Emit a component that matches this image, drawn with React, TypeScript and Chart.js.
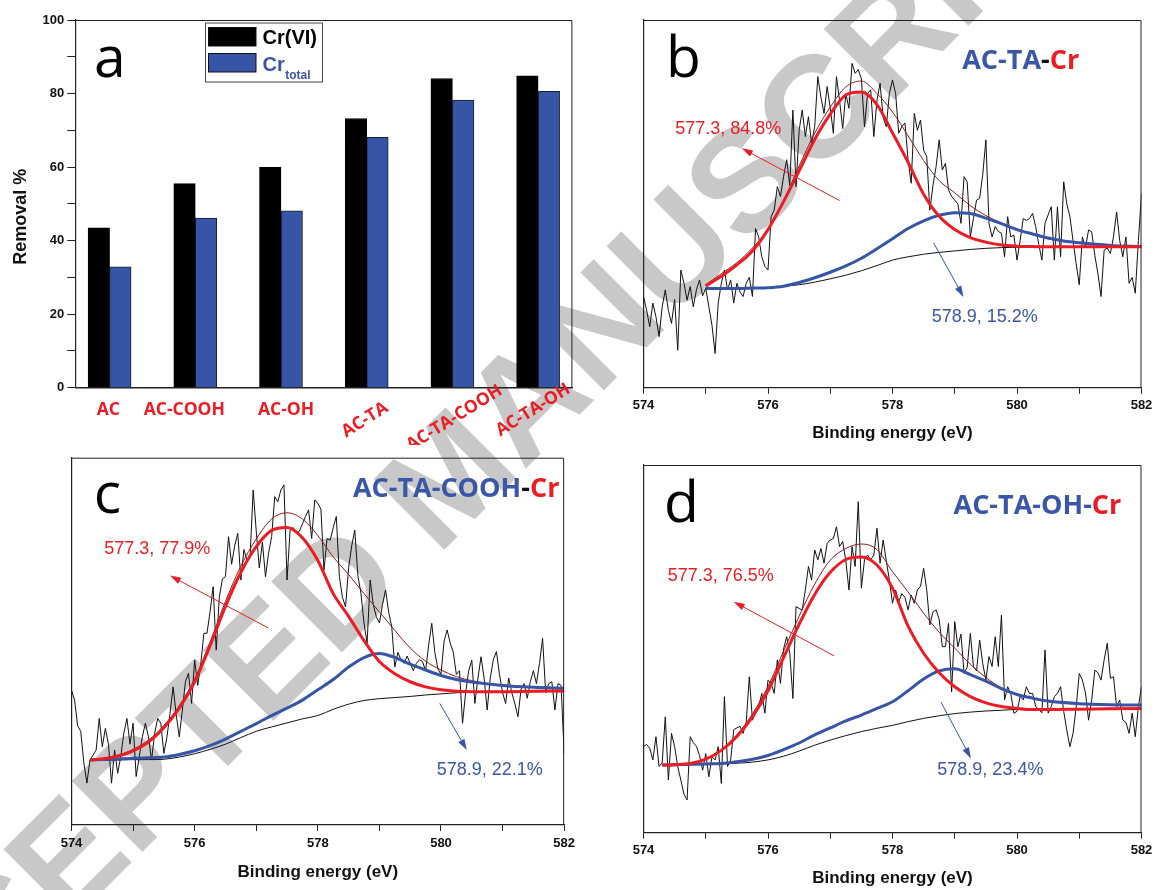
import React, { useEffect, useRef } from "react";
import { Chart, registerables } from "chart.js";
Chart.register(...registerables);

// ---------- Panel a data ----------
const SAMPLES = ["AC", "AC-COOH", "AC-OH", "AC-TA", "AC-TA-COOH", "AC-TA-OH"];
const CR6_REMOVAL = [43.5, 55.5, 59.9, 73.2, 84.1, 84.8];
const CRTOTAL_REMOVAL = [32.9, 46.1, 48.1, 68.1, 78.2, 80.6];
const REMOVAL_TICKS = [0, 20, 40, 60, 80, 100];

// ---------- XPS data (Cr 2p3/2), intensity in arbitrary units 0-100 ----------
const ENERGY_TICKS = [574, 576, 578, 580, 582];
const RAW_START = 574;
const RAW_STEP = 0.05;

const RAW_B = [
  24.8, 21.1, 16.6, 23.0, 19.3, 13.9, 22.0, 26.6, 21.0, 17.5, 24.0, 10.2, 32.0, 28.4, 23.8, 27.5, 22.0, 26.6, 29.3, 25.0, 27.0,
  22.0, 17.0, 9.3, 23.0, 28.4, 32.0, 26.6, 29.3, 23.0, 28.4,
  26.0, 24.8, 28.4, 30.0, 24.8, 43.3, 41.0, 35.6, 33.0, 32.0,
  46.5, 48.3, 54.7, 52.0, 57.4, 62.0, 55.0, 75.5, 54.7, 70.0,
  75.5, 68.3, 73.7, 66.5, 71.0, 84.6, 79.0, 74.6, 81.9, 76.0,
  69.2, 84.6, 78.0, 70.5, 80.0, 76.0, 88.2, 85.5, 86.5, 84.0,
  71.0, 80.0, 81.0, 68.3, 78.0, 82.8, 73.5, 71.0, 80.0, 83.7,
  80.0, 69.2, 71.0, 72.0, 62.0, 55.6, 74.6, 70.0, 72.8, 64.6,
  62.8, 48.3, 55.0, 60.1, 67.4, 59.2, 61.0, 53.8, 52.0, 51.0,
  50.0, 44.7, 57.4, 56.0, 41.0, 46.0, 51.0, 51.5, 58.0, 67.4,
  44.7, 41.0, 43.8, 42.5, 42.0, 35.6, 46.5, 41.0, 41.5, 34.7,
  40.0, 46.0, 45.5, 46.0, 47.4, 43.8, 39.0, 34.7, 44.7, 47.0,
  49.2, 34.7, 49.2, 35.6, 56.0, 50.0, 46.5, 40.0, 33.8, 28.0,
  41.0, 38.0, 42.9, 42.4, 36.0, 31.0, 24.8, 37.4, 38.0, 36.5,
  41.0, 47.8, 40.0, 35.6, 41.0, 28.4, 30.0, 25.7, 40.0, 52.8,
];
const RAW_C = [
  36.7, 34.0, 27.0, 25.5, 17.0, 11.4, 17.7, 19.0, 20.4, 29.0, 21.3,
  26.3, 22.0, 11.4, 20.4, 14.1, 18.6, 25.0, 29.0, 22.0, 27.7,
  13.2, 18.6, 24.0, 27.7, 24.0, 17.7, 25.0, 29.0, 27.7, 19.5,
  24.0, 30.4, 37.6, 30.0, 24.0, 31.3, 39.0, 41.3, 33.1, 44.9,
  38.0, 44.0, 52.2, 52.2, 58.0, 64.9, 47.6, 62.0, 67.0, 67.6,
  78.5, 71.0, 76.0, 79.4, 66.7, 75.0, 72.0, 73.0, 91.2, 80.0,
  70.0, 77.0, 67.6, 74.0, 78.5, 89.4, 88.0, 91.2, 92.6, 66.7,
  80.3, 81.0, 79.4, 80.0, 82.0, 84.0, 85.8, 78.0, 88.5, 87.6,
  86.0, 69.4, 78.0, 77.5, 81.0, 84.0, 67.6, 62.0, 59.4, 70.0,
  76.0, 80.3, 68.0, 63.1, 55.0, 49.5, 66.7, 60.0, 56.7, 55.0,
  60.0, 64.0, 58.0, 54.0, 43.0, 47.0, 45.0, 44.0, 46.0, 44.0,
  42.0, 44.0, 45.0, 44.5, 42.0, 49.0, 54.9, 47.0, 42.5, 41.0,
  50.0, 53.1, 49.5, 47.0, 41.0, 42.0, 27.7, 36.0, 42.0, 44.9,
  33.1, 40.0, 45.8, 40.0, 31.3, 40.0, 45.0, 47.2, 41.0, 36.0,
  33.1, 40.0, 36.0, 33.0, 29.5, 37.0, 38.5, 34.5, 39.0, 42.0,
  38.5, 44.0, 50.8, 36.0, 38.5, 39.0, 31.3, 38.5, 38.0, 19.5,
];
const RAW_D = [
  23.4, 24.0, 23.0, 19.8, 26.1, 18.0, 19.0, 31.5, 14.3, 27.0, 23.4,
  18.0, 14.3, 10.5, 8.9, 26.1, 24.5, 23.5, 21.0, 17.0, 21.5,
  15.2, 20.6, 19.8, 23.4, 13.4, 37.0, 18.0, 19.8, 28.0, 28.5,
  28.9, 27.0, 30.0, 42.4, 30.6, 32.5, 34.3, 37.9, 32.5, 41.5,
  40.6, 37.9, 47.0, 40.6, 50.0, 53.3, 48.8, 36.5, 61.5, 61.0,
  60.6, 66.0, 72.4, 68.7, 76.9, 74.2, 77.3, 73.3, 78.7, 79.6,
  80.0, 83.2, 77.8, 79.2, 74.0, 66.0, 77.8, 72.4, 90.0, 66.5,
  74.2, 75.5, 74.2, 75.5, 82.8, 73.3, 79.6, 74.0, 68.7, 62.4,
  66.0, 62.8, 65.0, 64.0, 60.6, 64.6, 62.4, 66.0, 67.0, 71.9,
  66.0, 56.5, 60.0, 60.6, 58.0, 50.6, 50.6, 56.9, 38.3, 57.4,
  50.6, 54.0, 43.3, 45.0, 54.2, 45.2, 44.0, 52.4, 46.0, 41.5,
  47.9, 45.2, 53.3, 45.2, 59.2, 36.1, 39.7, 37.9, 32.5, 33.0,
  37.0, 36.1, 39.7, 37.9, 37.9, 34.3, 33.5, 32.6, 49.7, 32.5,
  34.3, 37.0, 37.9, 39.7, 33.0, 27.9, 23.4, 27.0, 34.0, 43.3,
  41.5, 38.0, 30.6, 36.1, 44.2, 43.5, 41.5, 47.0, 51.5, 42.0,
  42.4, 34.3, 36.1, 30.6, 30.0, 27.0, 32.5, 26.1, 34.3, 39.7,
];

// fitted components
const FIT_X_B = [575, 575.25, 575.5, 575.75, 576, 576.25, 576.5, 576.75, 577, 577.25, 577.5, 577.75, 578, 578.25, 578.5, 578.75, 579, 579.25, 579.5, 579.75, 580, 580.25, 580.5, 580.75, 581, 581.5, 582];
const PEAK1_B = [27.7, 30.3, 33.4, 37.2, 43.0, 50.6, 59.0, 67.5, 74.4, 79.6, 80.4, 77.0, 69.3, 61.3, 52.6, 46.6, 43.0, 40.8, 39.6, 38.8, 38.5, 38.4, 38.3, 38.3, 38.3, 38.3, 38.3];
const PEAK2_B = [27.0, 27.0, 27.0, 27.1, 27.2, 27.6, 28.6, 29.9, 31.4, 33.1, 35.2, 37.8, 40.5, 43.3, 45.4, 46.9, 47.6, 47.4, 46.1, 44.6, 43.0, 41.8, 40.7, 39.9, 39.4, 38.7, 38.4];
const ENVELOPE_B = [28.0, 31.0, 34.0, 38.0, 43.0, 50.8, 60.3, 69.2, 76.3, 81.8, 83.4, 80.0, 75.0, 68.5, 61.8, 56.3, 53.0, 49.5, 46.8, 44.8, 43.0, 41.7, 40.5, 39.8, 39.3, 38.7, 38.4];
const BACKGROUND_B = [26.7, 26.7, 26.8, 27.0, 27.2, 27.6, 28.0, 28.7, 29.6, 30.6, 31.8, 33.2, 34.7, 35.6, 36.3, 36.8, 37.2, 37.6, 37.9, 38.1, 38.2, 38.3, 38.3, 38.3, 38.3, 38.3, 38.3];

const FIT_X_CD = [574.3, 574.5, 574.75, 575, 575.25, 575.5, 575.75, 576, 576.25, 576.5, 576.75, 577, 577.25, 577.5, 577.75, 578, 578.25, 578.5, 578.75, 579, 579.25, 579.5, 579.75, 580, 580.25, 580.5, 581, 581.5, 582];
const PEAK1_C = [17.7, 18.0, 18.7, 20.2, 22.6, 26.5, 31.8, 39.0, 48.8, 59.5, 68.8, 75.8, 80.2, 81.0, 78.2, 72.0, 63.0, 56.8, 50.2, 44.5, 41.2, 39.0, 37.6, 36.8, 36.4, 36.3, 36.3, 36.4, 36.5];
const PEAK2_C = [17.7, 17.8, 18.0, 18.2, 18.3, 18.5, 19.2, 20.2, 21.6, 23.4, 25.5, 27.6, 29.8, 31.8, 34.0, 36.8, 39.6, 43.0, 45.6, 46.7, 45.6, 43.8, 42.2, 40.7, 39.6, 38.9, 38.0, 37.5, 37.2];
const ENVELOPE_C = [17.9, 18.2, 19.0, 20.6, 23.1, 27.1, 32.5, 39.8, 49.8, 60.9, 70.5, 77.9, 83.3, 85.0, 83.3, 78.8, 73.0, 68.2, 63.0, 58.0, 53.0, 48.2, 44.6, 42.2, 40.4, 39.3, 38.1, 37.6, 37.4];
const BACKGROUND_C = [17.5, 17.6, 17.7, 17.8, 17.8, 17.9, 18.5, 19.4, 20.6, 22.0, 23.8, 25.5, 26.7, 27.8, 28.9, 29.8, 31.5, 32.9, 33.9, 34.4, 34.7, 35.0, 35.4, 35.7, 36.0, 36.2, 36.3, 36.3, 36.3];

const PEAK1_D = [18.4, 18.5, 18.8, 20.0, 22.4, 26.2, 31.5, 38.6, 47.6, 56.7, 64.8, 70.8, 74.3, 75.0, 72.8, 66.5, 56.2, 48.8, 43.5, 39.7, 37.0, 35.3, 34.3, 33.8, 33.5, 33.5, 33.6, 33.7, 33.8];
const PEAK2_D = [18.4, 18.5, 18.6, 18.7, 18.8, 19.3, 20.0, 21.0, 22.6, 24.4, 26.6, 28.5, 30.4, 32.0, 33.8, 35.6, 38.6, 41.8, 44.0, 44.6, 43.0, 41.2, 39.2, 37.6, 36.6, 35.8, 35.1, 34.8, 34.7];
const ENVELOPE_D = [18.4, 18.6, 18.9, 20.1, 22.5, 26.6, 32.3, 39.8, 49.4, 58.9, 67.6, 74.1, 77.3, 78.5, 77.0, 71.0, 65.5, 59.7, 54.5, 50.2, 45.8, 42.2, 39.4, 37.5, 36.4, 35.6, 35.0, 34.7, 34.7];
const BACKGROUND_D = [18.4, 18.4, 18.5, 18.6, 18.7, 18.9, 19.2, 19.8, 20.8, 22.2, 23.8, 25.2, 26.4, 27.5, 28.4, 29.2, 30.2, 31.1, 31.8, 32.4, 32.8, 33.1, 33.3, 33.5, 33.5, 33.6, 33.7, 33.8, 33.8];

// peak labels
const PEAK_LABELS_B = ["577.3, 84.8%", "578.9, 15.2%"];
const PEAK_LABELS_C = ["577.3, 77.9%", "578.9, 22.1%"];
const PEAK_LABELS_D = ["577.3, 76.5%", "578.9, 23.4%"];

// ---------- styles ----------
const RED = "#ed1c24";
const BLUE = "#3655a6";
const BLUE_TXT = "#3a56a6";
const ENV_COLOR = "#8b1a1a";
const SANS = "'Liberation Sans', Arial, sans-serif";
const CAL = "'Open Sans', 'Noto Sans', sans-serif";

Chart.defaults.font.family = SANS;

type Seg = [string, string];

const SPECTRA = [
  {
    key: "b", left: 580, top: 0, width: 577, height: 445,
    yW: 63.5, padTop: 20, padRight: 15.5, xH: 57.3, tickPad: 4, titlePad: 1.8,
    raw: RAW_B, fitX: FIT_X_B, p1: PEAK1_B, p2: PEAK2_B, env: ENVELOPE_B, bg: BACKGROUND_B,
    labels: PEAK_LABELS_B,
    title: [["AC-TA", BLUE_TXT], ["-", "#111"], ["Cr", RED]] as Seg[],
    letterAt: [574.36, 84.6], titleAt: [579.12, 88.8], redTextAt: [574.51, 70.4], blueTextAt: [578.63, 19.2],
    redArrow: [577.15, 50.9, 575.58, 65.1], blueArrow: [578.66, 39.4, 579.14, 24.7],
  },
  {
    key: "c", left: 0, top: 445, width: 580, height: 445,
    yW: 71.5, padTop: 12.7, padRight: 11.3, xH: 65, tickPad: 5, titlePad: 7.8,
    raw: RAW_C, fitX: FIT_X_CD, p1: PEAK1_C, p2: PEAK2_C, env: ENVELOPE_C, bg: BACKGROUND_C,
    labels: PEAK_LABELS_C,
    title: [["AC-TA-COOH", BLUE_TXT], ["-", "#111"], ["Cr", RED]] as Seg[],
    letterAt: [574.36, 84.9], titleAt: [578.57, 91.5], redTextAt: [574.53, 75.1], blueTextAt: [579.93, 15.0],
    redArrow: [577.2, 53.6, 575.6, 67.9], blueArrow: [579.98, 33.1, 580.42, 20.4],
  },
  {
    key: "d", left: 580, top: 445, width: 577, height: 445,
    yW: 63.5, padTop: 20, padRight: 15.5, xH: 57.3, tickPad: 4, titlePad: 1.8,
    raw: RAW_D, fitX: FIT_X_CD, p1: PEAK1_D, p2: PEAK2_D, env: ENVELOPE_D, bg: BACKGROUND_D,
    labels: PEAK_LABELS_D,
    title: [["AC-TA-OH-", BLUE_TXT], ["Cr", RED]] as Seg[],
    letterAt: [574.33, 84.6], titleAt: [578.98, 88.9], redTextAt: [574.39, 69.8], blueTextAt: [578.72, 17.1],
    redArrow: [577.06, 48.1, 575.45, 62.8], blueArrow: [578.78, 35.5, 579.26, 20.2],
  },
];

function drawArrow(ctx: CanvasRenderingContext2D, x1: number, y1: number, x2: number, y2: number, color: string) {
  const ang = Math.atan2(y2 - y1, x2 - x1);
  const len = 11, w = 3.5;
  ctx.strokeStyle = color;
  ctx.lineWidth = 1;
  ctx.beginPath();
  ctx.moveTo(x1, y1);
  ctx.lineTo(x2 - Math.cos(ang) * len * 0.6, y2 - Math.sin(ang) * len * 0.6);
  ctx.stroke();
  ctx.fillStyle = color;
  ctx.beginPath();
  ctx.moveTo(x2, y2);
  ctx.lineTo(x2 - len * Math.cos(ang) + w * Math.sin(ang), y2 - len * Math.sin(ang) - w * Math.cos(ang));
  ctx.lineTo(x2 - len * Math.cos(ang) - w * Math.sin(ang), y2 - len * Math.sin(ang) + w * Math.cos(ang));
  ctx.closePath();
  ctx.fill();
}

function drawBox(ctx: CanvasRenderingContext2D, a: any) {
  ctx.strokeStyle = "#222";
  ctx.lineWidth = 1;
  ctx.beginPath();
  ctx.moveTo(a.left, a.top + 0.5);
  ctx.lineTo(a.right - 0.5, a.top + 0.5);
  ctx.lineTo(a.right - 0.5, a.bottom);
  ctx.stroke();
}

function spectrumConfig(p: any): any {
  const xy = (xs: number[], ys: number[]) => xs.map((x, i) => ({ x, y: ys[i] }));
  const rawXY = p.raw.map((y: number, i: number) => ({ x: +(RAW_START + i * RAW_STEP).toFixed(2), y }));
  const smooth = { pointRadius: 0, cubicInterpolationMode: "monotone", fill: false };
  const decor = {
    id: "decor" + p.key,
    afterDraw(chart: any) {
      const { ctx, chartArea: a, scales } = chart;
      const X = (v: number) => scales.x.getPixelForValue(v);
      const Y = (v: number) => scales.y.getPixelForValue(v);
      ctx.save();
      drawBox(ctx, a);
      ctx.fillStyle = "#000";
      ctx.font = `57px ${CAL}`;
      ctx.textAlign = "left";
      ctx.textBaseline = "alphabetic";
      ctx.fillText(p.key, X(p.letterAt[0]), Y(p.letterAt[1]));
      ctx.font = `bold 27px ${CAL}`;
      ctx.textBaseline = "middle";
      let tx = X(p.titleAt[0]);
      for (const [t, c] of p.title) {
        ctx.fillStyle = c;
        ctx.fillText(t, tx, Y(p.titleAt[1]));
        tx += ctx.measureText(t).width;
      }
      ctx.font = `18px ${SANS}`;
      ctx.fillStyle = RED;
      ctx.fillText(p.labels[0], X(p.redTextAt[0]), Y(p.redTextAt[1]));
      ctx.fillStyle = BLUE_TXT;
      ctx.fillText(p.labels[1], X(p.blueTextAt[0]), Y(p.blueTextAt[1]));
      const ra = p.redArrow, ba = p.blueArrow;
      drawArrow(ctx, X(ra[0]), Y(ra[1]), X(ra[2]), Y(ra[3]), RED);
      drawArrow(ctx, X(ba[0]), Y(ba[1]), X(ba[2]), Y(ba[3]), BLUE);
      ctx.restore();
    },
  };
  return {
    type: "line",
    data: {
      datasets: [
        { label: "577.3 eV", data: xy(p.fitX, p.p1), borderColor: RED, borderWidth: 3, ...smooth },
        { label: "578.9 eV", data: xy(p.fitX, p.p2), borderColor: BLUE, borderWidth: 3, ...smooth },
        { label: "Envelope", data: xy(p.fitX, p.env), borderColor: ENV_COLOR, borderWidth: 1, ...smooth },
        { label: "Background", data: xy(p.fitX, p.bg), borderColor: "#111", borderWidth: 1, ...smooth },
        { label: "Raw", data: rawXY, borderColor: "#111", borderWidth: 1, pointRadius: 0, tension: 0, fill: false },
      ],
    },
    options: {
      responsive: false,
      animation: false,
      devicePixelRatio: 1,
      events: [],
      layout: { padding: { top: p.padTop, right: p.padRight, left: 0, bottom: 0 } },
      plugins: { legend: { display: false }, tooltip: { enabled: false } },
      scales: {
        x: {
          type: "linear", min: 574, max: 582, offset: false,
          afterFit: (s: any) => { s.height = p.xH; },
          ticks: {
            stepSize: 1, autoSkip: false, maxRotation: 0, padding: p.tickPad, color: "#111",
            font: { weight: "bold", size: 13, family: SANS },
            callback: (v: any) => (ENERGY_TICKS.includes(v) ? String(v) : ""),
          },
          grid: { display: true, drawOnChartArea: false, drawTicks: true, tickLength: 6, color: "#222", tickColor: "#222" },
          border: { display: true, color: "#222", width: 1.2 },
          title: {
            display: true, text: "Binding energy (eV)", color: "#111",
            font: { weight: "bold", size: 17, family: SANS }, padding: { top: 0, bottom: p.titlePad },
          },
        },
        y: {
          type: "linear", min: 0, max: 100,
          afterFit: (s: any) => { s.width = p.yW; },
          ticks: { display: false },
          grid: { display: false },
          border: { display: true, color: "#222", width: 1.2 },
        },
      },
    },
    plugins: [decor],
  };
}

// panel a label placement (style)
const LABEL_DX = [-1.3, -11, 5, -1.8, 2, -5];
const LABEL_Y = [410, 410, 410, 420, 418, 410];
const LABEL_ROT = [0, 0, 0, -32, -32, -32];

function barConfig(): any {
  const decor = {
    id: "decorA",
    afterDraw(chart: any) {
      const { ctx, chartArea: a, scales } = chart;
      ctx.save();
      drawBox(ctx, a);
      ctx.fillStyle = "#000";
      ctx.font = `57px ${CAL}`;
      ctx.textAlign = "left";
      ctx.textBaseline = "alphabetic";
      ctx.fillText("a", 94, 76.5);
      ctx.save();
      ctx.translate(20.7, 216.7);
      ctx.rotate(-Math.PI / 2);
      ctx.font = `bold 18px ${SANS}`;
      ctx.textAlign = "center";
      ctx.textBaseline = "middle";
      ctx.fillStyle = "#111";
      ctx.fillText("Removal %", 0, 0);
      ctx.restore();
      ctx.font = `bold 17.5px ${CAL}`;
      ctx.fillStyle = RED;
      ctx.textAlign = "center";
      ctx.textBaseline = "middle";
      SAMPLES.forEach((s, i) => {
        ctx.save();
        ctx.translate(scales.x.getPixelForValue(i) + LABEL_DX[i], LABEL_Y[i]);
        ctx.rotate((LABEL_ROT[i] * Math.PI) / 180);
        ctx.fillText(s, 0, 0);
        ctx.restore();
      });
      ctx.fillStyle = "#fff";
      ctx.fillRect(205.5, 23, 117, 59);
      ctx.strokeStyle = "#444";
      ctx.lineWidth = 1;
      ctx.strokeRect(205.5, 23, 117, 59);
      ctx.fillStyle = "#000";
      ctx.fillRect(208.5, 27.5, 47.5, 18.5);
      ctx.strokeStyle = "#111";
      ctx.strokeRect(208.5, 27.5, 47.5, 18.5);
      ctx.fillStyle = BLUE;
      ctx.fillRect(208.5, 53.5, 47.5, 18.5);
      ctx.strokeRect(208.5, 53.5, 47.5, 18.5);
      ctx.textAlign = "left";
      ctx.textBaseline = "alphabetic";
      ctx.font = `bold 20px ${SANS}`;
      ctx.fillStyle = "#000";
      ctx.fillText("Cr(VI)", 262.5, 44);
      ctx.fillStyle = BLUE_TXT;
      ctx.fillText("Cr", 262.5, 71);
      const w = ctx.measureText("Cr").width;
      ctx.font = `bold 12px ${SANS}`;
      ctx.fillText("total", 262.5 + w + 0.5, 78.5);
      ctx.restore();
    },
  };
  return {
    type: "bar",
    data: {
      datasets: [
        {
          label: "Cr(VI)", data: CR6_REMOVAL.map((y, i) => ({ x: i, y })),
          backgroundColor: "#000", borderColor: "#000", borderWidth: 1, barThickness: 21.5,
        },
        {
          label: "Cr total", data: CRTOTAL_REMOVAL.map((y, i) => ({ x: i, y })),
          backgroundColor: BLUE, borderColor: "#1c1c2c", borderWidth: 1, barThickness: 21.5,
        },
      ],
    },
    options: {
      responsive: false,
      animation: false,
      devicePixelRatio: 1,
      events: [],
      layout: { padding: { top: 20, right: 7.6, left: 0, bottom: 0 } },
      plugins: { legend: { display: false }, tooltip: { enabled: false } },
      scales: {
        x: {
          type: "linear", min: -0.4, max: 5.4, offset: false,
          afterFit: (s: any) => { s.height = 57.3; },
          ticks: { display: false },
          grid: { display: false },
          border: { display: true, color: "#222", width: 1.5 },
        },
        y: {
          type: "linear", min: 0, max: 100,
          afterFit: (s: any) => { s.width = 75.3; },
          ticks: {
            stepSize: 10, padding: 3, color: "#111", autoSkip: false,
            font: { weight: "bold", size: 13, family: SANS },
            callback: (v: any) => (REMOVAL_TICKS.includes(v) ? String(v) : ""),
          },
          grid: { display: true, drawOnChartArea: false, drawTicks: true, tickLength: 8, color: "#222", tickColor: "#222" },
          border: { display: true, color: "#222", width: 1.2 },
        },
      },
    },
    plugins: [decor],
  };
}

function ChartCanvas({ left, top, width, height, build }: any) {
  const ref = useRef<HTMLCanvasElement>(null);
  useEffect(() => {
    const chart = new Chart(ref.current as HTMLCanvasElement, build());
    return () => chart.destroy();
  }, []);
  return (
    <canvas
      ref={ref}
      width={width}
      height={height}
      style={{ position: "absolute", left, top, width, height }}
    />
  );
}

export default function App() {
  return (
    <div
      style={{
        position: "fixed", left: 0, top: 0, width: 1157, height: 890,
        overflow: "hidden", background: "#fff",
      }}
    >
      <div
        style={{
          position: "absolute", left: 448, top: 476,
          transform: "translate(-50%, -50%) rotate(-45deg)",
          font: `bold 145px ${SANS}`, lineHeight: 1, color: "#c8c8c8",
          whiteSpace: "nowrap",
        }}
      >
        ACCEPTED MANUSCRIPT
      </div>
      <ChartCanvas left={0} top={0} width={580} height={445} build={barConfig} />
      {SPECTRA.map((p) => (
        <ChartCanvas
          key={p.key}
          left={p.left}
          top={p.top}
          width={p.width}
          height={p.height}
          build={() => spectrumConfig(p)}
        />
      ))}
    </div>
  );
}
